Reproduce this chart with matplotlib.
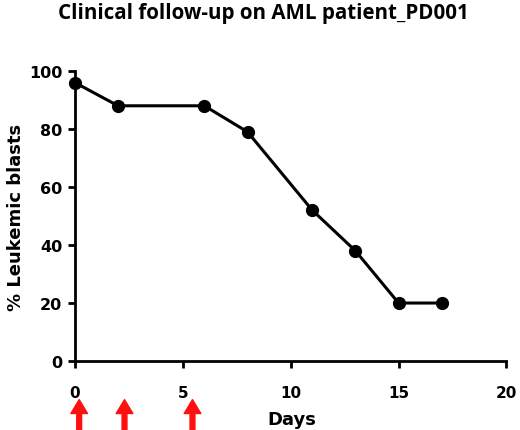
import matplotlib
matplotlib.use("Agg")
import matplotlib.pyplot as plt

days = [0, 2, 6, 8, 11, 13, 15, 17]
blasts = [96, 88, 88, 79, 52, 38, 20, 20]
arrow_days = [0.2, 2.3, 5.45]
x_ticks = [0, 5, 10, 15, 20]
y_ticks = [0, 20, 40, 60, 80, 100]

plt.rcParams['font.family'] = ['DejaVu Sans']

fig = plt.figure(figsize=(5.2, 4.31), dpi=100)
ax = fig.add_axes([0.144, 0.160, 0.830, 0.673])

ax.plot(days, blasts, color='black', lw=2.2, marker='o', markersize=8.5, clip_on=False, zorder=3)
ax.set_xlim(0, 20)
ax.set_ylim(0, 100)
ax.set_xticks(x_ticks)
ax.set_yticks(y_ticks)
ax.set_xticklabels([str(t) for t in x_ticks], fontsize=11, fontweight='bold')
ax.set_yticklabels([str(t) for t in y_ticks], fontsize=11.5, fontweight='bold')
for s in ['top', 'right']:
    ax.spines[s].set_visible(False)
for s in ['left', 'bottom']:
    ax.spines[s].set_linewidth(2.0)
ax.tick_params(axis='x', width=2.0, length=5, direction='out', pad=12)
ax.tick_params(axis='y', width=2.0, length=5, direction='out', pad=4)

fig.text(0.562, 1 - 420 / 431, 'Days', ha='center', va='center', fontsize=13, fontweight='bold')
ax.set_ylabel('% Leukemic blasts', fontsize=13, fontweight='bold', labelpad=3)

fig.text(0.506, 1 - 13 / 431, 'Clinical follow-up on AML patient_PD001', ha='center', va='center',
         fontsize=14.8, fontweight='bold', family=['Open Sans', 'DejaVu Sans'])

for d in arrow_days:
    ax.annotate('', xy=(d, -0.133), xycoords=('data', 'axes fraction'),
                xytext=(d, -0.26), textcoords=('data', 'axes fraction'),
                arrowprops=dict(width=3.5, headwidth=12, headlength=10, color='#ff1010', shrink=0),
                annotation_clip=False)

fig.savefig('out.png', dpi=100)
